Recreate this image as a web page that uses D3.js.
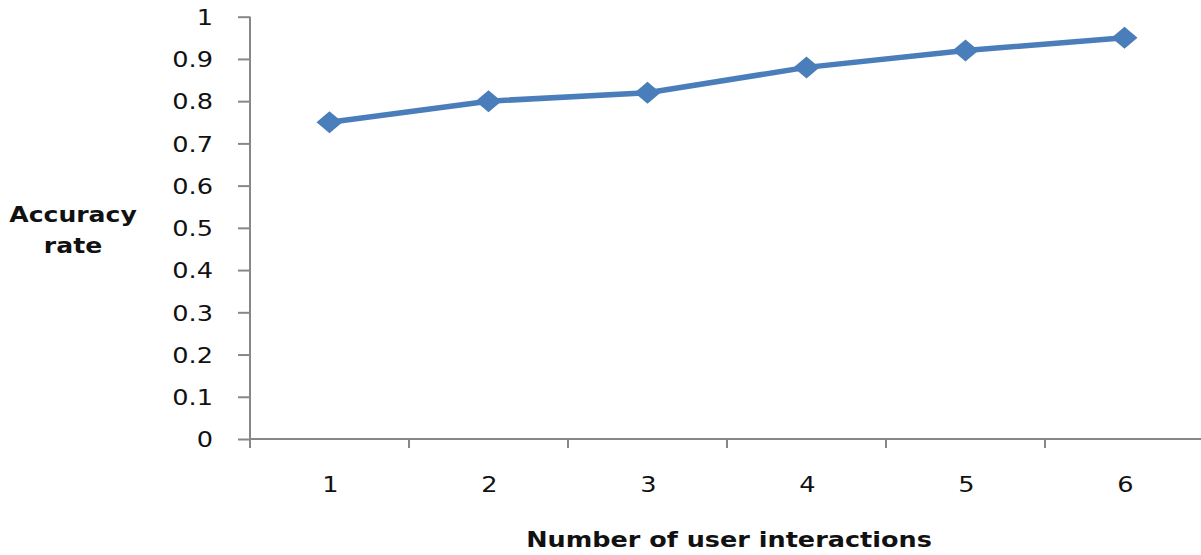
<!DOCTYPE html>
<html>
<head>
<meta charset="utf-8">
<script src="https://cdn.jsdelivr.net/npm/d3@7"></script>
<style>
  html, body { margin: 0; padding: 0; background: #fff; }
  svg { display: block; }
</style>
</head>
<body>
<svg id="chart" width="1201" height="555"></svg>
<script>
const categories = ["1", "2", "3", "4", "5", "6"];
const accuracy = [0.75, 0.80, 0.82, 0.88, 0.92, 0.95];
const yTicks = [0, 0.1, 0.2, 0.3, 0.4, 0.5, 0.6, 0.7, 0.8, 0.9, 1];
const xTitle = "Number of user interactions";
const yTitle = ["Accuracy", "rate"];

const svg = d3.select("#chart");
const SX = 1.22; // horizontal stretch of the original picture
const axisColor = "#878787";
const lineColor = "#4a7ebb";
const textColor = "#111";

const x = d3.scaleBand().domain(categories).range([250, 1204]);
const y = d3.scaleLinear().domain([0, 1]).range([439, 16.7]);

// Y axis
const yAxis = svg.append("g").attr("transform", "translate(250,0)")
  .call(d3.axisLeft(y).tickValues(yTicks).tickSize(12).tickPadding(0)
        .tickFormat(d => d3.format("")(+d.toFixed(1))));
yAxis.select(".domain").attr("stroke", axisColor).attr("stroke-width", 2)
  .attr("d", `M0,${y(1)}V${y(0)}`);
yAxis.selectAll(".tick line").attr("stroke", axisColor).attr("stroke-width", 2);
yAxis.selectAll(".tick text").each(function() {
  const t = d3.select(this);
  t.attr("x", null).attr("dy", null).attr("text-anchor", "end")
   .attr("fill", textColor)
   .style("font-family", "'DejaVu Sans', Verdana, sans-serif")
   .style("font-size", "21px")
   .attr("transform", `translate(-37,7.8) scale(${SX},1)`);
});

// X axis
const xAxis = svg.append("g").attr("transform", `translate(0,${y(0)})`)
  .call(d3.axisBottom(x).tickSize(0).tickPadding(0));
xAxis.select(".domain").attr("stroke", axisColor).attr("stroke-width", 2)
  .attr("d", `M250,0H1204`);
// category boundary tick marks
const bounds = categories.map(c => x(c)).concat([x(categories[categories.length - 1]) + x.bandwidth()]);
xAxis.selectAll(".bound").data(bounds).enter().append("line")
  .attr("class", "bound")
  .attr("x1", d => d).attr("x2", d => d)
  .attr("y1", 0).attr("y2", 9)
  .attr("stroke", axisColor).attr("stroke-width", 2);
xAxis.selectAll(".tick text").each(function() {
  const t = d3.select(this);
  t.attr("y", null).attr("dy", null).attr("text-anchor", "middle")
   .attr("fill", textColor)
   .style("font-family", "'DejaVu Sans', Verdana, sans-serif")
   .style("font-size", "21px")
   .attr("transform", `translate(1,52.5) scale(${SX},1)`);
});

// Line
const px = d => x(d) + x.bandwidth() / 2;
const pts = categories.map((c, i) => [px(c), y(accuracy[i])]);
svg.append("path")
  .datum(pts)
  .attr("d", d3.line())
  .attr("fill", "none")
  .attr("stroke", lineColor)
  .attr("stroke-width", 5.5)
  .attr("stroke-linejoin", "round");

// Diamond markers
const hw = 13, hh = 11;
svg.selectAll(".marker").data(pts).enter().append("path")
  .attr("class", "marker")
  .attr("d", d => `M${d[0] - hw},${d[1]}L${d[0]},${d[1] - hh}L${d[0] + hw},${d[1]}L${d[0]},${d[1] + hh}Z`)
  .attr("fill", lineColor);

// Axis titles
svg.append("text")
  .attr("transform", `translate(729,546.5) scale(1.245,1)`)
  .attr("text-anchor", "middle")
  .attr("fill", textColor)
  .style("font-family", "'DejaVu Sans', Verdana, sans-serif")
  .style("font-weight", "bold")
  .style("font-size", "20.5px")
  .text(xTitle);

const yt = svg.append("text")
  .attr("transform", `translate(73,221.5) scale(${SX * 0.98},1)`)
  .attr("text-anchor", "middle")
  .attr("fill", textColor)
  .style("font-family", "'DejaVu Sans', Verdana, sans-serif")
  .style("font-weight", "bold")
  .style("font-size", "21px");
yt.selectAll("tspan").data(yTitle).enter().append("tspan")
  .attr("x", 0)
  .attr("y", (d, i) => i * 31.5)
  .text(d => d);
</script>
</body>
</html>
